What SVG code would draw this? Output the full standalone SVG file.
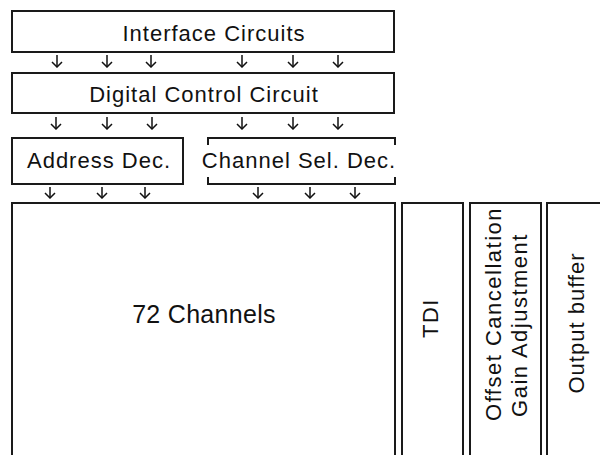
<svg xmlns="http://www.w3.org/2000/svg" width="600" height="455" viewBox="0 0 600 455">
<defs>
<style>
.box{fill:#fff;stroke:#1a1a1a;stroke-width:2}
.br{fill:none;stroke:#1a1a1a;stroke-width:2}
.t{font-family:"Liberation Sans",Arial,sans-serif;font-size:22px;fill:#111;letter-spacing:1px}
.big{font-size:25px;letter-spacing:0.3px}
.v{letter-spacing:1.5px}
.ar line{stroke:#111;stroke-width:1.5;fill:none;marker-end:url(#ah)}
</style>
<marker id="ah" viewBox="0 0 10 12" refX="9" refY="6" markerWidth="10" markerHeight="12" markerUnits="userSpaceOnUse" orient="auto">
<path d="M4,1 L9,6 L4,11" fill="none" stroke="#111" stroke-width="1.5"/>
</marker>
</defs>
<rect width="600" height="455" fill="#fff"/>
<g id="interface">
<rect class="box" x="12" y="11" width="382" height="41"/>
<text class="t" x="214" y="41" text-anchor="middle">Interface Circuits</text>
</g>
<g id="digital">
<rect class="box" x="12" y="73" width="382" height="40"/>
<text class="t" x="204" y="102" text-anchor="middle">Digital Control Circuit</text>
</g>
<g id="address">
<rect class="box" x="12" y="138" width="171" height="46"/>
<text class="t" x="99" y="168" text-anchor="middle">Address Dec.</text>
</g>
<g id="chansel">
<path class="br" d="M208,145 V138 H395 V145 M208,177 V184 H395 V177"/>
<text class="t" x="299" y="168" text-anchor="middle">Channel Sel. Dec.</text>
</g>
<g id="channels">
<rect class="box" x="12" y="203" width="383" height="262"/>
<text class="t big" x="204" y="323" text-anchor="middle">72 Channels</text>
</g>
<g id="tdi">
<rect class="box" x="402" y="203" width="61" height="262"/>
<text class="t v" transform="translate(438,318) rotate(-90)" text-anchor="middle">TDI</text>
</g>
<g id="offset">
<rect class="box" x="470" y="203" width="71" height="262"/>
<text class="t v" transform="translate(501,314) rotate(-90)" text-anchor="middle">Offset Cancellation</text>
<text class="t v" transform="translate(527,325) rotate(-90)" text-anchor="middle">Gain Adjustment</text>
</g>
<g id="output">
<rect class="box" x="547" y="203" width="70" height="262"/>
<text class="t" transform="translate(584,323) rotate(-90)" text-anchor="middle">Output buffer</text>
</g>
<g id="connectors" class="ar">
<line x1="57" y1="55" x2="57" y2="67"/>
<line x1="107" y1="55" x2="107" y2="67"/>
<line x1="151" y1="55" x2="151" y2="67"/>
<line x1="242" y1="55" x2="242" y2="67"/>
<line x1="293" y1="55" x2="293" y2="67"/>
<line x1="338" y1="55" x2="338" y2="67"/>
<line x1="56" y1="117" x2="56" y2="129"/>
<line x1="107" y1="117" x2="107" y2="129"/>
<line x1="152" y1="117" x2="152" y2="129"/>
<line x1="242" y1="117" x2="242" y2="129"/>
<line x1="293" y1="117" x2="293" y2="129"/>
<line x1="338" y1="117" x2="338" y2="129"/>
<line x1="50" y1="187" x2="50" y2="198"/>
<line x1="102" y1="187" x2="102" y2="198"/>
<line x1="145" y1="187" x2="145" y2="198"/>
<line x1="258" y1="187" x2="258" y2="198"/>
<line x1="310" y1="187" x2="310" y2="198"/>
<line x1="355" y1="187" x2="355" y2="198"/>
</g>
</svg>
